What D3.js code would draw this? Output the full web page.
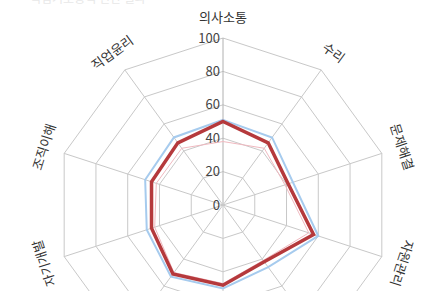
<!DOCTYPE html>
<html>
<head>
<meta charset="utf-8">
<script src="https://cdn.jsdelivr.net/npm/d3@7"></script>
<style>
  body { margin: 0; background: #fff; }
  svg { display: block; font-family: "Noto Sans CJK KR", "Noto Sans", sans-serif; }
</style>
</head>
<body>
<svg id="chart" width="421" height="291"></svg>
<script>
// categories, clockwise from the top
var categories = ["의사소통", "수리", "문제해결", "자원관리", "대인관계", "정보", "기술", "자기개발", "조직이해", "직업윤리"];
var blueValues = [51, 50, 44, 60, 46, 50, 53, 48, 49, 50];
var pinkValues = [38, 42, 39, 54, 41, 47, 50, 43, 42, 42];
var redValues  = [50, 46, 41, 57, 42, 48, 51, 45, 45, 46];
var ticks = [0, 20, 40, 60, 80, 100];

var cx = 223, cy = 205;

var svg = d3.select("#chart");

var r = d3.scaleLinear()
    .domain([0, 100])
    .range([0, 167]);

var angle = d3.scaleLinear()
    .domain([0, categories.length])
    .range([0, 2 * Math.PI]);

var g = svg.append("g")
    .attr("transform", "translate(" + cx + "," + cy + ")");

// faint cut-off text at the very top
svg.append("text")
    .attr("x", 30)
    .attr("y", 3)
    .attr("font-size", 12)
    .attr("fill", "#e8e8e8")
    .text("직업기초능력 진단 결과");

// grid rings
var ring = d3.lineRadial()
    .angle(function(d, i) { return angle(i); })
    .curve(d3.curveLinearClosed);

g.selectAll(".ring")
    .data(ticks.slice(1))
  .enter().append("path")
    .attr("class", "ring")
    .attr("d", function(t) { return ring.radius(r(t))(categories); })
    .attr("fill", "none")
    .attr("stroke", "#c8c8c8")
    .attr("stroke-width", 1);

// spokes
g.selectAll(".spoke")
    .data(categories)
  .enter().append("line")
    .attr("class", "spoke")
    .attr("x1", 0).attr("y1", 0)
    .attr("x2", function(d, i) { return r(100) * Math.sin(angle(i)); })
    .attr("y2", function(d, i) { return -r(100) * Math.cos(angle(i)); })
    .attr("stroke", function(d, i) { return i === 0 ? "#b0b0b0" : "#c8c8c8"; })
    .attr("stroke-width", 1);

// value axis labels
g.selectAll(".tick")
    .data(ticks)
  .enter().append("text")
    .attr("class", "tick")
    .attr("x", -3)
    .attr("y", function(t) { return -r(t); })
    .attr("dy", "0.35em")
    .attr("text-anchor", "end")
    .attr("font-size", 13)
    .attr("fill", "#444")
    .text(function(t) { return t; });

// series
var line = d3.lineRadial()
    .angle(function(d, i) { return angle(i); })
    .radius(function(d) { return r(d); })
    .curve(d3.curveLinearClosed);

var series = [
  { values: blueValues, color: "#a6cbee", width: 2 },
  { values: pinkValues, color: "#f0b9c0", width: 1 },
  { values: redValues,  color: "#b5393c", width: 3.5 }
];

g.selectAll(".series")
    .data(series)
  .enter().append("path")
    .attr("class", "series")
    .attr("d", function(s) { return line(s.values); })
    .attr("fill", "none")
    .attr("stroke", function(s) { return s.color; })
    .attr("stroke-width", function(s) { return s.width; })
    .attr("stroke-linejoin", "miter");

// category labels, rotated with their axis (bottom ones fall outside the frame, as in the reference)
var labelR = 188;
g.selectAll(".cat")
    .data(categories)
  .enter().append("text")
    .attr("class", "cat")
    .attr("transform", function(d, i) {
      var a = angle(i);
      return "translate(" + (labelR * Math.sin(a)) + "," + (-labelR * Math.cos(a)) + ") rotate(" + (a * 180 / Math.PI) + ")";
    })
    .attr("text-anchor", "middle")
    .attr("dy", "0.35em")
    .attr("font-size", 13)
    .attr("fill", "#333")
    .text(function(d) { return d; });
</script>
</body>
</html>
